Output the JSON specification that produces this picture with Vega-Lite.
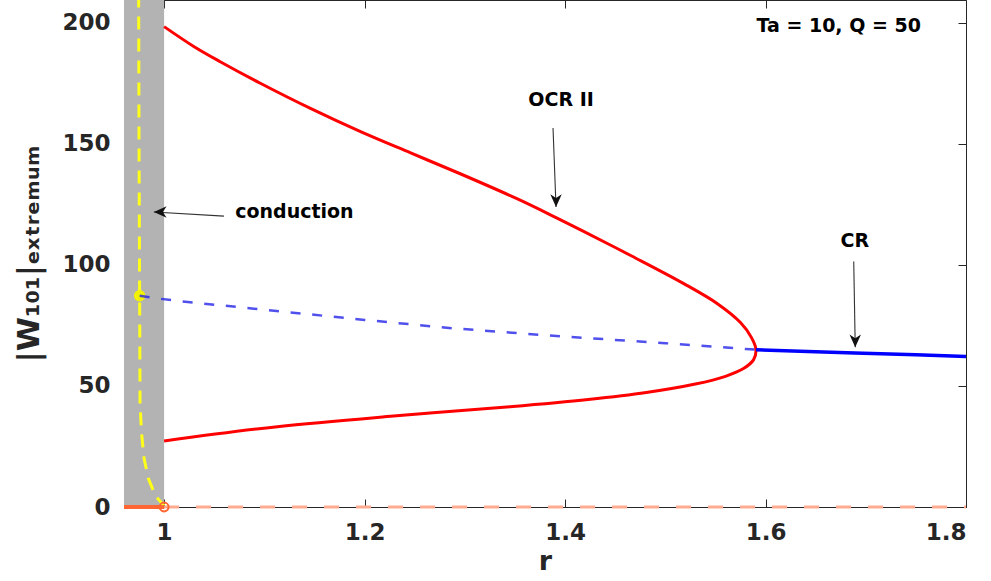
{
  "$schema": "https://vega.github.io/schema/vega-lite/v6.json",
  "width": 842,
  "height": 507,
  "autosize": {"type": "none"},
  "padding": {"left": 124, "top": 0, "right": 25, "bottom": 74},
  "background": "white",
  "config": {
    "font": "DejaVu Sans",
    "view": {"stroke": "#262626", "strokeWidth": 1},
    "axis": {
      "grid": false,
      "domainColor": "#262626",
      "tickColor": "#262626",
      "tickSize": -8,
      "labelFont": "DejaVu Sans",
      "labelFontWeight": "bold",
      "labelFontSize": 23,
      "labelColor": "#262626",
      "titleFont": "DejaVu Sans",
      "titleFontWeight": "bold",
      "titleColor": "#262626"
    }
  },
  "datasets": {
    "band": [{"r0": 0.96, "r1": 1.0}],
    "ocr2": [
      {"i": 1, "r": 1.000, "w": 198.5},
      {"i": 2, "r": 1.030, "w": 190.2},
      {"i": 3, "r": 1.056, "w": 184.0},
      {"i": 4, "r": 1.096, "w": 175.1},
      {"i": 5, "r": 1.146, "w": 164.7},
      {"i": 6, "r": 1.196, "w": 155.1},
      {"i": 7, "r": 1.246, "w": 146.3},
      {"i": 8, "r": 1.296, "w": 137.6},
      {"i": 9, "r": 1.352, "w": 127.4},
      {"i": 10, "r": 1.390, "w": 119.8},
      {"i": 11, "r": 1.417, "w": 114.2},
      {"i": 12, "r": 1.467, "w": 103.6},
      {"i": 13, "r": 1.518, "w": 92.4},
      {"i": 14, "r": 1.552, "w": 84.0},
      {"i": 15, "r": 1.575, "w": 76.2},
      {"i": 16, "r": 1.586, "w": 70.0},
      {"i": 17, "r": 1.5905, "w": 65.0},
      {"i": 18, "r": 1.588, "w": 60.8},
      {"i": 19, "r": 1.578, "w": 57.2},
      {"i": 20, "r": 1.560, "w": 54.0},
      {"i": 21, "r": 1.530, "w": 50.8},
      {"i": 22, "r": 1.481, "w": 47.3},
      {"i": 23, "r": 1.423, "w": 44.4},
      {"i": 24, "r": 1.345, "w": 41.4},
      {"i": 25, "r": 1.229, "w": 37.6},
      {"i": 26, "r": 1.113, "w": 33.2},
      {"i": 27, "r": 1.000, "w": 27.3}
    ],
    "crUnstable": [
      {"r": 0.9756, "w": 87.3},
      {"r": 0.993, "w": 86.2},
      {"r": 1.015, "w": 85.1},
      {"r": 1.036, "w": 84.2},
      {"r": 1.2, "w": 77.3},
      {"r": 1.289, "w": 73.8},
      {"r": 1.4, "w": 70.4},
      {"r": 1.5, "w": 67.7},
      {"r": 1.58, "w": 65.3},
      {"r": 1.5905, "w": 65.0}
    ],
    "crStable": [
      {"r": 1.5905, "w": 65.0},
      {"r": 1.65, "w": 64.2},
      {"r": 1.689, "w": 63.6},
      {"r": 1.75, "w": 62.9},
      {"r": 1.8, "w": 62.2}
    ],
    "conduction": [
      {"r": 0.9745, "w": 230},
      {"r": 0.9750, "w": 150},
      {"r": 0.9756, "w": 87.3},
      {"r": 0.9760, "w": 42.6},
      {"r": 0.9775, "w": 30.6},
      {"r": 0.9800, "w": 20.0},
      {"r": 0.9845, "w": 11.6},
      {"r": 0.9915, "w": 4.5},
      {"r": 1.0, "w": 0.5}
    ],
    "bifPoint": [{"r": 0.9756, "w": 87.3}],
    "trivialSolid": [{"r": 0.96, "w": 0}, {"r": 1.0, "w": 0}],
    "trivialDashed": [{"r": 1.0, "w": 0}, {"r": 1.8, "w": 0}],
    "onset": [{"r": 1.0, "w": 0}],
    "arrows": [
      {"label": "OCR II", "r0": 1.388, "w0": 156.6, "r1": 1.391, "w1": 124.0},
      {"label": "CR", "r0": 1.688, "w0": 101.4, "r1": 1.6895, "w1": 66.0},
      {"label": "conduction", "r0": 1.0597, "w0": 120.2, "r1": 0.9898, "w1": 121.9}
    ],
    "notes": [
      {"text": "OCR II", "r": 1.396, "w": 168.2},
      {"text": "CR", "r": 1.689, "w": 110.0},
      {"text": "conduction", "r": 1.130, "w": 121.9},
      {"text": "Ta = 10, Q = 50", "r": 1.673, "w": 198.8}
    ]
  },
  "layer": [
    {
      "layer": [
        {
          "data": {"name": "band"},
          "mark": {"type": "rect", "color": "#b3b3b3"},
          "encoding": {
            "x": {
              "field": "r0", "type": "quantitative",
              "scale": {"domain": [0.96, 1.8], "nice": false, "zero": false},
              "axis": {
                "values": [1, 1.2, 1.4, 1.6, 1.8], "format": "~g",
                "labelPadding": 22, "title": "r", "titleFontSize": 27, "titlePadding": 4
              }
            },
            "x2": {"field": "r1"}
          }
        },
        {
          "data": {"name": "conduction"},
          "mark": {"type": "line", "color": "#ffff1a", "strokeWidth": 3, "strokeDash": [13, 9], "clip": true},
          "encoding": {
            "x": {"field": "r", "type": "quantitative"},
            "y": {
              "field": "w", "type": "quantitative",
              "scale": {"domain": [0, 209.5], "nice": false},
              "axis": {
                "values": [0, 50, 100, 150, 200],
                "labelPadding": 22,
                "title": "|W₁₀₁|ₑₓₜᵣₑₘᵤₘ", "titleFontSize": 31, "titlePadding": 16
              }
            },
            "order": {"field": "w", "sort": "descending"}
          }
        },
        {
          "data": {"name": "bifPoint"},
          "mark": {"type": "point", "filled": true, "color": "#f2f200", "size": 130, "opacity": 1},
          "encoding": {
            "x": {"field": "r", "type": "quantitative"},
            "y": {"field": "w", "type": "quantitative"}
          }
        },
        {
          "data": {"name": "trivialDashed"},
          "mark": {"type": "line", "color": "#ffab8f", "strokeWidth": 3, "strokeDash": [15, 17]},
          "encoding": {
            "x": {"field": "r", "type": "quantitative"},
            "y": {"field": "w", "type": "quantitative"}
          }
        },
        {
          "data": {"name": "trivialSolid"},
          "mark": {"type": "line", "color": "#ff6633", "strokeWidth": 4},
          "encoding": {
            "x": {"field": "r", "type": "quantitative"},
            "y": {"field": "w", "type": "quantitative"}
          }
        },
        {
          "data": {"name": "onset"},
          "mark": {"type": "point", "filled": false, "color": "#ff6633", "size": 80, "strokeWidth": 2, "opacity": 1},
          "encoding": {
            "x": {"field": "r", "type": "quantitative"},
            "y": {"field": "w", "type": "quantitative"}
          }
        },
        {
          "data": {"name": "crUnstable"},
          "mark": {"type": "line", "color": "#2424e8", "strokeWidth": 2.5, "strokeDash": [10, 11.7], "opacity": 0.8},
          "encoding": {
            "x": {"field": "r", "type": "quantitative"},
            "y": {"field": "w", "type": "quantitative"}
          }
        },
        {
          "data": {"name": "ocr2"},
          "mark": {"type": "line", "color": "#ff0000", "strokeWidth": 3, "interpolate": "catmull-rom"},
          "encoding": {
            "x": {"field": "r", "type": "quantitative"},
            "y": {"field": "w", "type": "quantitative"},
            "order": {"field": "i"}
          }
        },
        {
          "data": {"name": "crStable"},
          "mark": {"type": "line", "color": "#0000ff", "strokeWidth": 3.5},
          "encoding": {
            "x": {"field": "r", "type": "quantitative"},
            "y": {"field": "w", "type": "quantitative"}
          }
        },
        {
          "data": {"name": "arrows"},
          "mark": {"type": "rule", "color": "#333333", "strokeWidth": 1.1},
          "encoding": {
            "x": {"field": "r0", "type": "quantitative"},
            "y": {"field": "w0", "type": "quantitative"},
            "x2": {"field": "r1"},
            "y2": {"field": "w1"}
          }
        },
        {
          "data": {"name": "arrows"},
          "transform": [{"filter": "datum.label !== 'conduction'"}],
          "mark": {"type": "point", "filled": true, "color": "#111111", "opacity": 1, "size": 650,
                   "shape": "M0,0 L-0.45,-1 L0,-0.7 L0.45,-1 Z"},
          "encoding": {
            "x": {"field": "r1", "type": "quantitative"},
            "y": {"field": "w1", "type": "quantitative"}
          }
        },
        {
          "data": {"name": "arrows"},
          "transform": [{"filter": "datum.label === 'conduction'"}],
          "mark": {"type": "point", "filled": true, "color": "#111111", "opacity": 1, "size": 650,
                   "shape": "M0,0 L1,-0.45 L0.7,0 L1,0.45 Z"},
          "encoding": {
            "x": {"field": "r1", "type": "quantitative"},
            "y": {"field": "w1", "type": "quantitative"}
          }
        },
        {
          "data": {"name": "notes"},
          "mark": {"type": "text", "font": "DejaVu Sans", "fontWeight": "bold", "fontSize": 19, "color": "#000000", "align": "center", "baseline": "middle"},
          "encoding": {
            "x": {"field": "r", "type": "quantitative"},
            "y": {"field": "w", "type": "quantitative"},
            "text": {"field": "text"}
          }
        }
      ]
    },
    {
      "data": {"name": "bifPoint"},
      "mark": {"type": "point", "opacity": 0},
      "encoding": {
        "x": {
          "field": "r", "type": "quantitative",
          "axis": {"orient": "top", "values": [1, 1.2, 1.4, 1.6, 1.8], "labels": false, "title": null, "domain": false}
        },
        "y": {
          "field": "w", "type": "quantitative",
          "axis": {"orient": "right", "values": [0, 50, 100, 150, 200], "labels": false, "title": null, "domain": false}
        }
      }
    }
  ],
  "resolve": {"axis": {"x": "independent", "y": "independent"}}
}
